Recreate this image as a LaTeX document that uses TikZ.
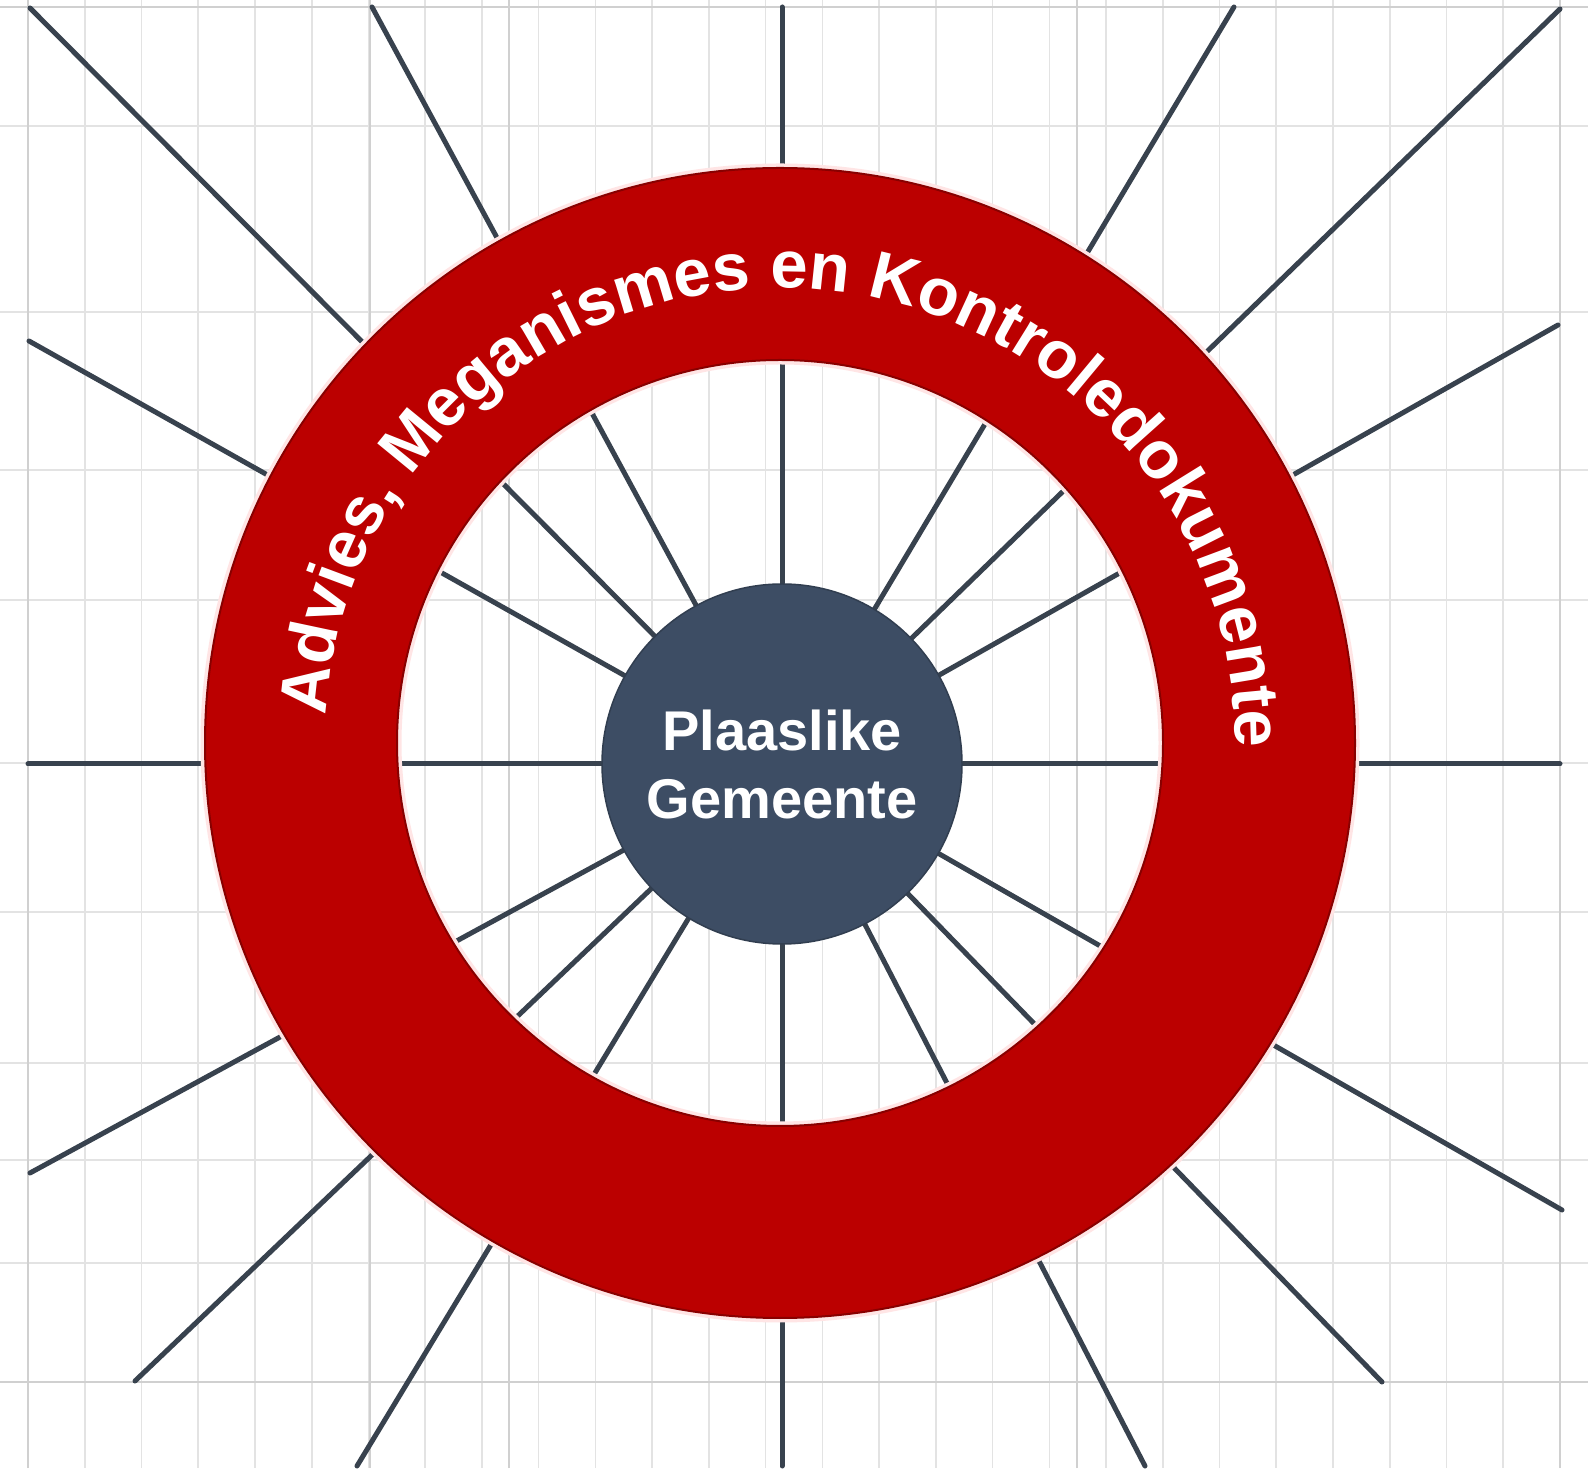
\documentclass[tikz,border=0pt]{standalone}
\usepackage{fontspec}
\newfontfamily\lsans{Liberation Sans}
\usetikzlibrary{decorations.text}
\definecolor{ringred}{HTML}{BB0000}
\definecolor{ringedge}{HTML}{880000}
\definecolor{hubblue}{HTML}{3D4D64}
\definecolor{raycol}{HTML}{38424E}
\definecolor{gridcol}{HTML}{E3E3E3}
\definecolor{gridmaj}{HTML}{D0D0D0}
\pgfdeclarelayer{gridlayer}
\pgfdeclarelayer{raylayer}
\pgfdeclarelayer{ringlayer}
\pgfsetlayers{gridlayer,raylayer,ringlayer,main}
\newcommand\ringtextfont{\lsans\bfseries\fontsize{67}{74}\selectfont}
\begin{document}
\begin{tikzpicture}[x=1pt,y=1pt,
  gridline/.style={draw=gridcol, line width=1.6pt},
  gridmajor/.style={draw=gridmaj, line width=2.6pt},
  ray/.style={draw=raycol, line width=5pt, line cap=round},
  hub/.style={circle, fill=hubblue, draw=hubblue!80!black, line width=1.5pt,
    minimum size=360pt, inner sep=0pt, align=center, text=white,
    font=\lsans\bfseries\fontsize{56}{68}\selectfont},
  ringfill/.style={fill=ringred, even odd rule},
  ringline/.style={draw=ringedge, line width=2pt},
  ringglow/.style={draw=red!10, line width=5pt}]
\useasboundingbox (0,0) rectangle (1588,1468);
% background grid
\begin{pgfonlayer}{gridlayer}
  \fill[white] (0,0) rectangle (1588,1468);
  \foreach \k in {0,...,27}
    \draw[gridline] ({28+56.74*\k},0) -- ({28+56.74*\k},1468);
  \foreach \yy in {126,312,470,600,763,912,1063,1160,1263}
    \draw[gridline] (0,{1468-\yy}) -- (1588,{1468-\yy});
  \foreach \xx in {28,370,509,1077,1560}
    \draw[gridmajor] (\xx,0) -- (\xx,1468);
  \foreach \yy in {7,1382}
    \draw[gridmajor] (0,{1468-\yy}) -- (1588,{1468-\yy});
\end{pgfonlayer}
% hub
\node[hub] (hub) at (782,704) {Plaaslike\\Gemeente};
% ray end points
\coordinate (e1) at (30,1460);
\coordinate (e2) at (372,1461);
\coordinate (e3) at (29,1127);
\coordinate (e4) at (28,704);
\coordinate (e5) at (30,295);
\coordinate (e6) at (135,87);
\coordinate (e7) at (357,2);
\coordinate (e8) at (782,2);
\coordinate (e9) at (1145,2);
\coordinate (e10) at (1382,86);
\coordinate (e11) at (1562,258);
\coordinate (e12) at (1560,704);
\coordinate (e13) at (1558,1143);
\coordinate (e14) at (1560,1459);
\coordinate (e15) at (1234,1461);
\coordinate (e16) at (782,1461);
\begin{pgfonlayer}{raylayer}
  \foreach \i in {1,...,16}
    \draw[ray] (hub) -- (e\i);
\end{pgfonlayer}
% ring
\coordinate (rc) at (780,725);
\begin{pgfonlayer}{ringlayer}
  \draw[ringglow] (rc) circle[radius=577pt];
  \draw[ringglow] (rc) circle[radius=381pt];
  \fill[ringfill] (rc) circle[radius=575pt] (rc) circle[radius=383pt];
  \draw[ringline] (rc) circle[radius=575pt];
  \draw[ringline] (rc) circle[radius=383pt];
  \path[decorate, decoration={text along path,
      text={|\ringtextfont|Advies, Meganismes en Kontroledokumente},
      text align=center, text color=white}]
    ([shift={(177:455pt)}]rc) arc[start angle=177, end angle=-1, radius=455pt];
\end{pgfonlayer}
\end{tikzpicture}
\end{document}
